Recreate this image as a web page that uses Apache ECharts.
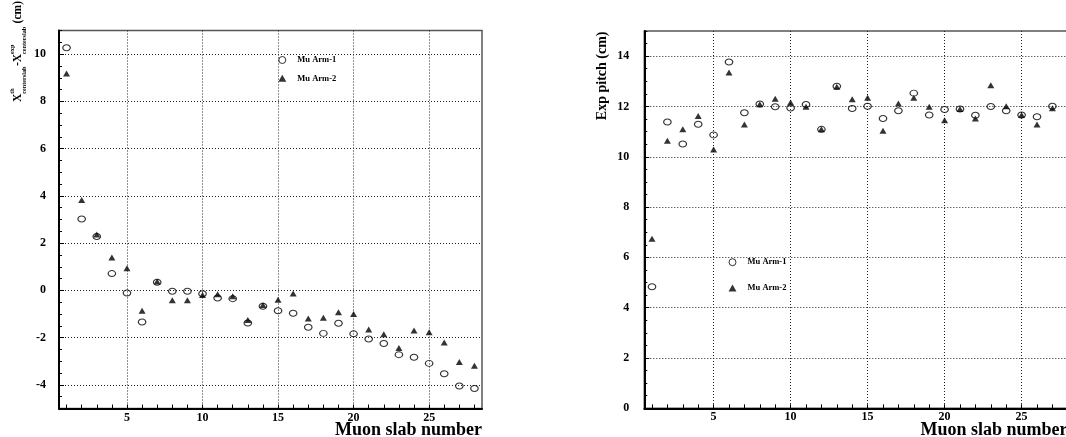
<!DOCTYPE html>
<html>
<head>
<meta charset="utf-8">
<script src="https://cdn.jsdelivr.net/npm/echarts@6/dist/echarts.min.js"></script>
<style>
  html, body { margin: 0; padding: 0; background: #fff; }
  #chart { width: 1066px; height: 437px; }
</style>
</head>
<body>
<div id="chart"></div>
<script>
// Muon slab numbers (x for both panels)
const slabs = [1, 2, 3, 4, 5, 6, 7, 8, 9, 10, 11, 12, 13, 14, 15, 16, 17, 18, 19, 20, 21, 22, 23, 24, 25, 26, 27, 28];

// Left panel: x_centerslab(th) - x_centerslab(exp), cm
const offsetArm1 = [10.27, 3.02, 2.28, 0.71, -0.11, -1.34, 0.34, -0.04, -0.04, -0.14, -0.32, -0.35, -1.38, -0.67, -0.86, -0.97, -1.56, -1.82, -1.39, -1.84, -2.06, -2.25, -2.72, -2.83, -3.09, -3.53, -4.05, -4.15];
const offsetArm2 = [9.18, 3.83, 2.36, 1.39, 0.94, -0.86, 0.38, -0.42, -0.42, -0.20, -0.16, -0.25, -1.25, -0.62, -0.40, -0.13, -1.19, -1.16, -0.93, -1.00, -1.66, -1.86, -2.44, -1.70, -1.77, -2.21, -3.03, -3.19];

// Right panel: measured pitch, cm (27 slabs)
const pitchArm1 = [4.83, 11.38, 10.51, 11.29, 10.87, 13.77, 11.75, 12.10, 11.99, 11.94, 12.08, 11.09, 12.80, 11.92, 12.01, 11.52, 11.83, 12.53, 11.66, 11.88, 11.90, 11.65, 12.00, 11.83, 11.66, 11.59, 12.01];
const pitchArm2 = [6.74, 10.64, 11.09, 11.62, 10.29, 13.35, 11.28, 12.09, 12.31, 12.16, 11.99, 11.09, 12.78, 12.29, 12.35, 11.03, 12.12, 12.35, 11.99, 11.45, 11.90, 11.52, 12.84, 12.01, 11.66, 11.28, 11.93];

// Tick labels
const slabLabels = [5, 10, 15, 20, 25];
const offsetLabels = [-4, -2, 0, 2, 4, 6, 8, 10];
const pitchLabels = [0, 2, 4, 6, 8, 10, 12, 14];

const seriesNames = ['Mu Arm-1', 'Mu Arm-2'];
const xTitle = 'Muon slab number';
const pitchTitle = 'Exp pitch (cm)';

const SERIF = '"Liberation Serif", "Times New Roman", serif';
const RING = 'path://M0,5A5,5 0 1,1 10,5A5,5 0 1,1 0,5Z';

const pairs = vals => vals.map((v, i) => [slabs[i], v]);

const dotted = { type: [1, 2], color: '#222', width: 1 };
const labelFont = { fontSize: 12, fontWeight: 'bold', fontFamily: SERIF, color: '#000' };

function mainX(gridIndex, nameGap) {
  return {
    type: 'value', gridIndex, position: 'bottom', min: 0.5, max: 28.5,
    axisLine: { onZero: false, lineStyle: { color: '#000', width: 2 } },
    axisTick: { show: false, customValues: slabLabels },
    axisLabel: Object.assign({ customValues: slabLabels, margin: 3 }, labelFont),
    splitLine: { show: true, lineStyle: dotted },
    name: xTitle, nameLocation: 'end', nameGap, nameMoveOverlap: false,
    nameTextStyle: {
      fontSize: 18, fontWeight: 'bold', fontFamily: SERIF, color: '#000',
      align: 'right', verticalAlign: 'top', lineHeight: 18, padding: [13, 0, 0, 0]
    }
  };
}
function slabTicksX(gridIndex) {
  return {
    type: 'value', gridIndex, position: 'bottom', min: 0.5, max: 28.5,
    axisLine: { show: false, onZero: false },
    axisTick: { show: true, inside: true, length: 4, customValues: slabs, lineStyle: { color: '#000', width: 1 } },
    axisLabel: { show: false }, splitLine: { show: false }
  };
}
function mainY(gridIndex, min, max, labels, margin) {
  return {
    type: 'value', gridIndex, position: 'left', min, max, splitNumber: 8,
    axisLine: { show: true, onZero: false, lineStyle: { color: '#000', width: 2 } },
    axisTick: { show: true, inside: true, length: 5, customValues: labels, lineStyle: { color: '#000', width: 1 } },
    axisLabel: Object.assign({ customValues: labels, margin }, labelFont),
    splitLine: { show: true, lineStyle: dotted }
  };
}
function halfTicksY(gridIndex, min, max) {
  return {
    type: 'value', gridIndex, position: 'left', min, max, interval: 0.5,
    axisLine: { show: false, onZero: false },
    axisTick: { show: true, inside: true, length: 3, lineStyle: { color: '#000', width: 1 } },
    axisLabel: { show: false }, splitLine: { show: false }
  };
}

function ringSeries(name, xi, yi, vals) {
  return {
    type: 'scatter', name, xAxisIndex: xi, yAxisIndex: yi, data: pairs(vals),
    symbol: RING, symbolSize: [7.5, 6], z: 3,
    itemStyle: { color: 'rgba(0,0,0,0)', borderColor: '#000', borderWidth: 1.1 },
    emphasis: { disabled: true }
  };
}
function triSeries(name, xi, yi, vals) {
  return {
    type: 'scatter', name, xAxisIndex: xi, yAxisIndex: yi, data: pairs(vals),
    symbol: 'triangle', symbolSize: [7, 6], z: 4,
    itemStyle: { color: '#000' },
    emphasis: { disabled: true }
  };
}

function legendAt(left, top, gap) {
  return {
    orient: 'vertical', left, top, itemWidth: 8, itemHeight: 7, itemGap: gap,
    data: seriesNames, selectedMode: false,
    itemStyle: { borderWidth: 1 },
    textStyle: { fontSize: 8.5, fontWeight: 'bold', fontFamily: SERIF, color: '#000', lineHeight: 9, padding: [0, 0, 0, 6] }
  };
}

// Rotated left-axis title with stacked sub/superscripts
function stackedTitle() {
  const ctx = document.createElement('canvas').getContext('2d');
  const mainFont = 'bold 11.5px ' + SERIF;
  const smallFont = 'bold 6.2px ' + SERIF;
  const w = (s, f) => { ctx.font = f; return ctx.measureText(s).width; };
  const parts = [
    { main: 'X', sub: 'centerslab', sup: 'th' },
    { main: '-X', sub: 'centerslab', sup: 'exp' },
    { main: ' (cm)' }
  ];
  const children = [];
  let x = 0;
  parts.forEach(p => {
    children.push({ type: 'text', style: { text: p.main, x, y: 0, font: mainFont, fill: '#000', align: 'left', verticalAlign: 'middle' } });
    x += w(p.main, mainFont);
    if (p.sub) {
      children.push({ type: 'text', style: { text: p.sub, x, y: 5.5, font: smallFont, fill: '#000', align: 'left', verticalAlign: 'middle' } });
      children.push({ type: 'text', style: { text: p.sup, x, y: -6, font: smallFont, fill: '#000', align: 'left', verticalAlign: 'middle' } });
      x += Math.max(w(p.sub, smallFont), w(p.sup, smallFont)) + 0.5;
    }
  });
  return { type: 'group', x: 18.5, y: 102, rotation: Math.PI / 2, children };
}

const chart = echarts.init(document.getElementById('chart'), null, { renderer: 'canvas' });

chart.setOption({
  animation: false,
  backgroundColor: '#fff',
  grid: [
    { left: 59, top: 30.5, width: 423, height: 378, show: true, borderColor: '#555', borderWidth: 1.5, containLabel: false, outerBoundsMode: 'none' },
    { left: 644.3, top: 31, width: 431.2, height: 377.3, show: true, borderColor: '#555', borderWidth: 1.5, containLabel: false, outerBoundsMode: 'none' }
  ],
  xAxis: [mainX(0, 0), slabTicksX(0), mainX(1, -8), slabTicksX(1)],
  yAxis: [
    mainY(0, -5, 11, offsetLabels, 13), halfTicksY(0, -5, 11),
    mainY(1, 0, 15, pitchLabels, 15), halfTicksY(1, 0, 15)
  ],
  legend: [legendAt(273.3, 50.5, 9.3), legendAt(723.5, 252.7, 16.7)],
  graphic: [
    stackedTitle(),
    {
      type: 'text', x: 602, y: 31.5, rotation: Math.PI / 2,
      style: { text: pitchTitle, font: 'bold 14px ' + SERIF, fill: '#000', align: 'right', verticalAlign: 'middle' }
    }
  ],
  series: [
    ringSeries(seriesNames[0], 0, 0, offsetArm1),
    triSeries(seriesNames[1], 0, 0, offsetArm2),
    ringSeries(seriesNames[0], 2, 2, pitchArm1),
    triSeries(seriesNames[1], 2, 2, pitchArm2)
  ]
});
</script>
</body>
</html>
